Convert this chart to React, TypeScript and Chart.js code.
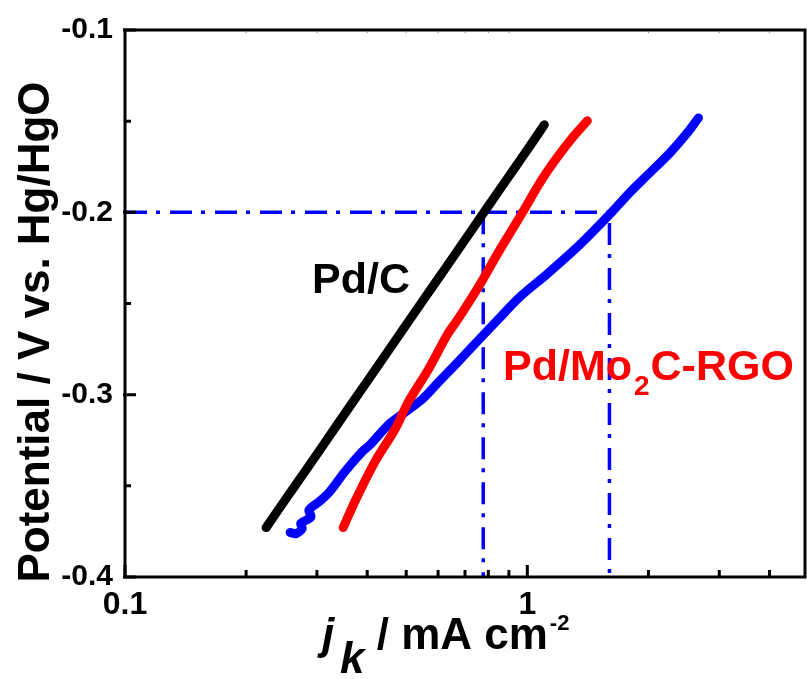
import React, { useEffect, useRef } from "react";
import { Chart, registerables } from "chart.js";

Chart.register(...registerables);

// ---- Data ----
const pdcX = [0.2243, 0.25, 0.2804, 0.3145, 0.3526, 0.3954, 0.4434, 0.4971, 0.5575, 0.6252, 0.701, 0.777, 0.8565, 0.9335, 1.0174, 1.102];
const pdcY = [-0.3729, -0.3578, -0.342, -0.3261, -0.3101, -0.2943, -0.2784, -0.2625, -0.2466, -0.2308, -0.2149, -0.2006, -0.1871, -0.1752, -0.1633, -0.152];

const mo2cX = [0.3485, 0.3733, 0.4186, 0.4694, 0.5058, 0.5671, 0.636, 0.6696, 0.764, 0.8422, 0.9718, 1.077, 1.19, 1.301, 1.41];
const mo2cY = [-0.3729, -0.3583, -0.3366, -0.3188, -0.3041, -0.2863, -0.2662, -0.2592, -0.2392, -0.2229, -0.2002, -0.1834, -0.1695, -0.1585, -0.1498];

const blueX = [0.2573, 0.2662, 0.2756, 0.2735, 0.2898, 0.2866, 0.3055, 0.3236, 0.3526, 0.3887, 0.4069, 0.451, 0.4971, 0.548, 0.6006, 0.662, 0.8422, 0.9607, 1.1215, 1.354, 1.6, 1.804, 1.988, 2.268, 2.5, 2.663];
const blueY = [-0.3756, -0.3762, -0.3735, -0.3705, -0.3672, -0.3632, -0.3583, -0.3529, -0.342, -0.3312, -0.3274, -0.3166, -0.3096, -0.3025, -0.2933, -0.2836, -0.2592, -0.2462, -0.2337, -0.2175, -0.2013, -0.1888, -0.1796, -0.1671, -0.1563, -0.1482];

const xMajorTicks = [0.1, 1];
const xMinorTicks = [0.2, 0.3, 0.4, 0.5, 0.6, 0.7, 0.8, 0.9, 2, 3, 4];
const yMajorTicks = [-0.4, -0.3, -0.2, -0.1];
const yMinorTicks = [-0.35, -0.25, -0.15];

const guideLevel = -0.2;
const guideXs = [0.777, 1.6];
const xMin = 0.1;
const xMax = 4.9;
const yMin = -0.4;
const yMax = -0.1;

const FONT = '"Liberation Sans", Arial, Helvetica, sans-serif';

function pts(xs: number[], ys: number[]) {
  return xs.map((x, i) => ({ x, y: ys[i] }));
}

const framePlugin = {
  id: "framePlugin",
  afterDraw(chart: any) {
    const { ctx, chartArea } = chart;
    const xs = chart.scales.x;
    const ys = chart.scales.y;
    const { left, right, top, bottom } = chartArea;
    ctx.save();
    ctx.strokeStyle = "#000";
    ctx.lineWidth = 3;
    ctx.lineCap = "butt";
    ctx.strokeRect(left, top, right - left, bottom - top);

    // inward ticks on bottom axis
    ctx.beginPath();
    xMinorTicks.forEach((v) => {
      const px = xs.getPixelForValue(v);
      ctx.moveTo(px, bottom);
      ctx.lineTo(px, bottom - 7);
    });
    xMajorTicks.forEach((v) => {
      const px = xs.getPixelForValue(v);
      ctx.moveTo(px, bottom);
      ctx.lineTo(px, bottom - 12);
    });
    // inward ticks on left axis
    yMinorTicks.forEach((v) => {
      const py = ys.getPixelForValue(v);
      ctx.moveTo(left, py);
      ctx.lineTo(left + 6, py);
    });
    yMajorTicks.forEach((v) => {
      const py = ys.getPixelForValue(v);
      ctx.moveTo(left - 2, py);
      ctx.lineTo(left + 11, py);
    });
    ctx.stroke();

    // faint ticks on the top axis
    ctx.beginPath();
    ctx.strokeStyle = "#888";
    ctx.lineWidth = 1;
    xMinorTicks.forEach((v) => {
      const px = xs.getPixelForValue(v);
      ctx.moveTo(px, top + 1);
      ctx.lineTo(px, top + 3);
    });
    ctx.stroke();

    // Y axis title
    ctx.fillStyle = "#000";
    ctx.save();
    ctx.translate(49, 332);
    ctx.rotate(-Math.PI / 2);
    ctx.font = `bold 44px ${FONT}`;
    ctx.textAlign = "center";
    ctx.textBaseline = "alphabetic";
    ctx.fillText("Potential / V vs. Hg/HgO", 0, 0);
    ctx.restore();

    // X axis title: j_k / mA cm^-2
    ctx.textAlign = "left";
    ctx.textBaseline = "alphabetic";
    ctx.font = `italic bold 44px ${FONT}`;
    ctx.fillText("j", 322, 649);
    ctx.fillText("k", 340, 673);
    const kW = ctx.measureText("k").width;
    ctx.font = `bold 44px ${FONT}`;
    const rest = " / mA cm";
    const restX = 340 + kW;
    ctx.fillText(rest, restX, 649);
    const restW = ctx.measureText(rest).width;
    ctx.font = `bold 22px ${FONT}`;
    ctx.fillText("-2", restX + restW + 2, 630);

    // series labels
    ctx.font = `bold 43px ${FONT}`;
    ctx.fillStyle = "#000";
    ctx.fillText("Pd/C", 312, 293);

    ctx.fillStyle = "#FF0000";
    ctx.font = `bold 43px ${FONT}`;
    const a = "Pd/Mo";
    ctx.fillText(a, 503, 380);
    const aW = ctx.measureText(a).width;
    ctx.font = `bold 28px ${FONT}`;
    ctx.fillText("2", 503 + aW + 2, 395);
    const twoW = ctx.measureText("2").width;
    ctx.font = `bold 43px ${FONT}`;
    ctx.fillText("C-RGO", 503 + aW + twoW + 3, 380);
    ctx.restore();
  },
};

export default function App() {
  const ref = useRef<HTMLCanvasElement | null>(null);

  useEffect(() => {
    if (!ref.current) return;
    const lineBase = {
      showLine: true,
      pointRadius: 0,
      borderWidth: 9,
      tension: 0.3,
      borderCapStyle: "round" as const,
      borderJoinStyle: "round" as const,
      fill: false,
    };
    const guideBase = {
      showLine: true,
      pointRadius: 0,
      borderWidth: 3.5,
      borderColor: "#0000FF",
      borderDash: [22, 9, 4, 10],
      fill: false,
      tension: 0,
    };
    const chart = new Chart(ref.current, {
      type: "scatter",
      data: {
        datasets: [
          { ...lineBase, label: "Pd/C", data: pts(pdcX, pdcY), borderColor: "#000000", backgroundColor: "#000000" },
          { ...lineBase, label: "Pd/Mo2C-RGO", data: pts(mo2cX, mo2cY), borderColor: "#FF0000", backgroundColor: "#FF0000" },
          { ...lineBase, label: "blue", data: pts(blueX, blueY), borderColor: "#0000FF", backgroundColor: "#0000FF" },
          {
            ...guideBase,
            label: "guide1",
            data: [
              { x: xMin, y: guideLevel },
              { x: guideXs[1], y: guideLevel },
              { x: guideXs[1], y: yMin },
            ],
          },
          {
            ...guideBase,
            label: "guide2",
            data: [
              { x: guideXs[0], y: guideLevel },
              { x: guideXs[0], y: yMin },
            ],
          },
        ] as any,
      },
      options: {
        responsive: false,
        animation: false,
        layout: { padding: { top: 23, right: 2, left: 0, bottom: 0 } },
        plugins: { legend: { display: false }, tooltip: { enabled: false } },
        scales: {
          x: {
            type: "logarithmic",
            min: xMin,
            max: xMax,
            grid: { display: false, drawTicks: false },
            border: { display: false },
            afterBuildTicks: (s: any) => {
              s.ticks = xMajorTicks.map((v) => ({ value: v }));
            },
            afterFit: (s: any) => {
              s.height = 102;
            },
            ticks: {
              padding: 9,
              color: "#000",
              maxRotation: 0,
              autoSkip: false,
              font: { family: FONT, size: 32, weight: "bold" },
              callback: (v: any) => String(v),
            },
          },
          y: {
            type: "linear",
            min: yMin,
            max: yMax,
            grid: { display: false, drawTicks: false },
            border: { display: false },
            afterBuildTicks: (s: any) => {
              s.ticks = yMajorTicks.map((v) => ({ value: v }));
            },
            afterFit: (s: any) => {
              s.width = 125;
            },
            ticks: {
              padding: 12,
              color: "#000",
              autoSkip: false,
              font: { family: FONT, size: 30, weight: "bold" },
              callback: (v: any) => Number(v).toFixed(1),
            },
          },
        },
      } as any,
      plugins: [framePlugin],
    });
    return () => chart.destroy();
  }, []);

  return (
    <canvas
      ref={ref}
      width={807}
      height={679}
      style={{ position: "absolute", left: 0, top: 0, display: "block", background: "#fff" }}
    />
  );
}
